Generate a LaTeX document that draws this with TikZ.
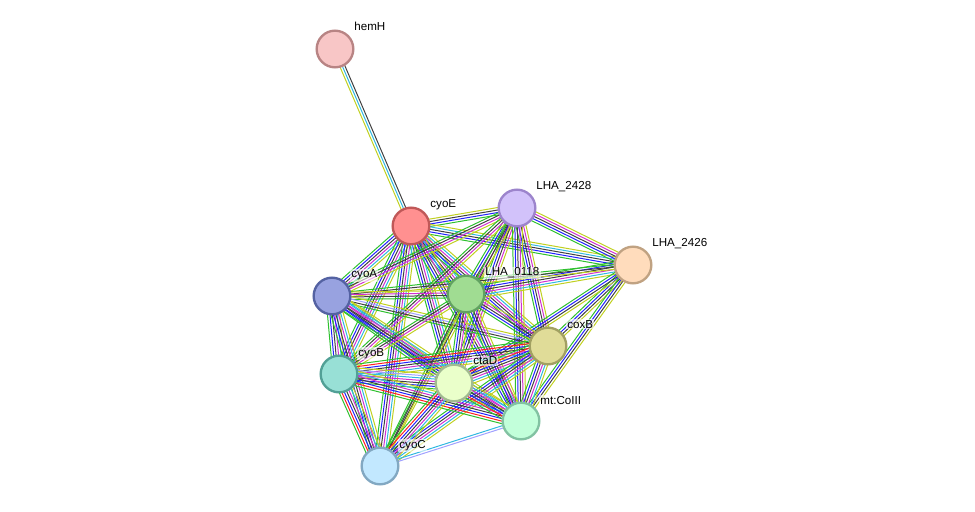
\documentclass[tikz,border=0pt]{standalone}
\usepackage{fontspec}
\setmainfont{Liberation Sans}
\usetikzlibrary{calc}
\pgfdeclarelayer{bg}
\pgfsetlayers{bg,main}
\definecolor{cn}{HTML}{2EC02E}
\definecolor{cf}{HTML}{FF2020}
\definecolor{cp}{HTML}{2222FF}
\definecolor{cx}{HTML}{404040}
\definecolor{ce}{HTML}{D030D0}
\definecolor{cd}{HTML}{30B8E0}
\definecolor{ct}{HTML}{C0D020}
\definecolor{ch}{HTML}{A0A0FF}
\definecolor{fhemH}{HTML}{F8C6C6}\definecolor{bhemH}{HTML}{B88484}
\definecolor{fcyoE}{HTML}{FF9090}\definecolor{bcyoE}{HTML}{C05858}
\definecolor{fLa}{HTML}{D2C2FA}\definecolor{bLa}{HTML}{9C84CC}
\definecolor{fLb}{HTML}{FFDCBC}\definecolor{bLb}{HTML}{C0A282}
\definecolor{fcyoA}{HTML}{98A2E0}\definecolor{bcyoA}{HTML}{5462A2}
\definecolor{fLc}{HTML}{A0DC92}\definecolor{bLc}{HTML}{62A262}
\definecolor{fcoxB}{HTML}{E0DC98}\definecolor{bcoxB}{HTML}{A2A062}
\definecolor{fcyoB}{HTML}{98E0D6}\definecolor{bcyoB}{HTML}{52A096}
\definecolor{fctaD}{HTML}{EAFFCA}\definecolor{bctaD}{HTML}{A2BA92}
\definecolor{fmt}{HTML}{C2FFDA}\definecolor{bmt}{HTML}{82C2A2}
\definecolor{fcyoC}{HTML}{C2E8FF}\definecolor{bcyoC}{HTML}{82A8C2}
\newcommand\sedge[3]{%
  \foreach \c [count=\k] in {#3}{\xdef\sedgenum{\k}}%
  \foreach \c [count=\i] in {#3}{%
    \pgfmathsetmacro\off{(\i-(\sedgenum+1)/2)*2.1}%
    \draw[draw=\c, line width=0.85pt] ($(#1.center)!\off pt!90:(#2.center)$) -- ($(#2.center)!\off pt!-90:(#1.center)$);
  }}
\tikzset{
  prot/.style={circle, minimum size=1.1cm, inner sep=0pt, line width=2pt},
  plabel/.style={anchor=base west, inner sep=1pt, fill=white, fill opacity=0.6, text opacity=1, font=\fontsize{9.9}{11}\selectfont}
}
\begin{document}
\begin{tikzpicture}[x=0.03cm, y=-0.03cm]
\useasboundingbox (0,0) rectangle (975,512);
\node[prot, fill=fhemH, draw=bhemH] (hemH) at (335,49) {};
\node[prot, fill=fcyoE, draw=bcyoE] (cyoE) at (411,226) {};
\node[prot, fill=fLa, draw=bLa] (L2428) at (517,208) {};
\node[prot, fill=fLb, draw=bLb] (L2426) at (633,265) {};
\node[prot, fill=fcyoA, draw=bcyoA] (cyoA) at (332,296) {};
\node[prot, fill=fLc, draw=bLc] (L0118) at (466,294) {};
\node[prot, fill=fcoxB, draw=bcoxB] (coxB) at (548,346) {};
\node[prot, fill=fcyoB, draw=bcyoB] (cyoB) at (339,374) {};
\node[prot, fill=fctaD, draw=bctaD] (ctaD) at (454,383) {};
\node[prot, fill=fmt, draw=bmt] (mt) at (521,421) {};
\node[prot, fill=fcyoC, draw=bcyoC] (cyoC) at (380,466) {};
\node[plabel] (lhemH) at ($(hemH.center)+(18,-18)$) {hemH};
\node[plabel] (lcyoE) at ($(cyoE.center)+(18,-18)$) {cyoE};
\node[plabel] (lL2428) at ($(L2428.center)+(18,-18)$) {LHA\_2428};
\node[plabel] (lL2426) at ($(L2426.center)+(18,-18)$) {LHA\_2426};
\node[plabel] (lcyoA) at ($(cyoA.center)+(18,-18)$) {cyoA};
\node[plabel] (lL0118) at ($(L0118.center)+(18,-18)$) {LHA\_0118};
\node[plabel] (lcoxB) at ($(coxB.center)+(18,-18)$) {coxB};
\node[plabel] (lcyoB) at ($(cyoB.center)+(18,-18)$) {cyoB};
\node[plabel] (lctaD) at ($(ctaD.center)+(18,-18)$) {ctaD};
\node[plabel] (lmt) at ($(mt.center)+(18,-17)$) {mt:CoIII};
\node[plabel] (lcyoC) at ($(cyoC.center)+(18,-18)$) {cyoC};
\begin{pgfonlayer}{bg}
\sedge{hemH}{cyoE}{ct,cd,cx}
\sedge{cyoE}{L2428}{cn,cp,cx,ct}
\sedge{cyoE}{L2426}{cn,cp,cx,cd,ct}
\sedge{cyoE}{cyoA}{cn,cp,cx,ce,cd,ct}
\sedge{cyoE}{L0118}{cn,cp,cx,ce,cd,ct}
\sedge{cyoE}{coxB}{cn,cp,cx,ce,cd,ct}
\sedge{cyoE}{cyoB}{cn,cp,cx,ce,cd,ct}
\sedge{cyoE}{ctaD}{cn,cp,cx,ce,cd,ct}
\sedge{cyoE}{mt}{cn,cp,cx,ce,cd,ct}
\sedge{cyoE}{cyoC}{cn,cp,cx,ce,cd,ct}
\sedge{L2428}{L2426}{cn,cp,cx,ce,ct}
\sedge{L2428}{cyoA}{cn,cx,ce,ct}
\sedge{L2428}{L0118}{cn,cp,cx,ce,ct}
\sedge{L2428}{coxB}{cn,cp,cx,ce,ct}
\sedge{L2428}{cyoB}{cn,cx,ce,ct}
\sedge{L2428}{ctaD}{cn,cp,cx,ce,ct}
\sedge{L2428}{mt}{cn,cp,cx,ce,ct}
\sedge{L2428}{cyoC}{cn,cx,ct}
\sedge{L2426}{L0118}{cn,cp,cx,ce,cd,ct}
\sedge{L2426}{cyoA}{cn,cx,ct}
\sedge{L2426}{coxB}{cn,cp,cx,ct}
\sedge{L2426}{ctaD}{cn,cp,cx,ct}
\sedge{L2426}{mt}{cn,cp,cx,ct}
\sedge{cyoA}{L0118}{cn,cx,ce,ct}
\sedge{cyoA}{coxB}{cn,cx,ch,ct}
\sedge{cyoA}{cyoB}{cn,cp,cx,ce,cd,ct}
\sedge{cyoA}{ctaD}{cn,cp,cx,ce,cd,ct}
\sedge{cyoA}{mt}{cn,cp,cx,ce,cd,ct}
\sedge{cyoA}{cyoC}{cn,cp,cx,ce,cd,ct}
\sedge{L0118}{coxB}{cn,cp,cx,ce,ct}
\sedge{L0118}{cyoB}{cn,cx,ce,ct}
\sedge{L0118}{ctaD}{cn,cp,cx,ce,ct}
\sedge{L0118}{mt}{cn,cp,cx,ce,ct}
\sedge{L0118}{cyoC}{cn,cx,ct}
\sedge{coxB}{cyoB}{cn,cf,cp,cx,ce,cd,ct}
\sedge{coxB}{ctaD}{cn,cf,cp,cx,ce,cd,ct}
\sedge{coxB}{mt}{cn,cp,cx,ce,cd,ct}
\sedge{coxB}{cyoC}{cn,cp,cx,ce,cd,ct}
\sedge{cyoB}{ctaD}{cn,cp,cx,ce,cd,ch,ct}
\sedge{cyoB}{mt}{cn,cf,cp,cx,ce,cd,ct}
\sedge{cyoB}{cyoC}{cn,cf,cp,cx,ce,cd,ct}
\sedge{ctaD}{mt}{cn,cf,cp,cx,ce,cd,ct}
\sedge{ctaD}{cyoC}{cn,cf,cp,cx,ce,cd,ct}
\sedge{mt}{cyoC}{cd,ch}
\end{pgfonlayer}
\end{tikzpicture}
\end{document}
